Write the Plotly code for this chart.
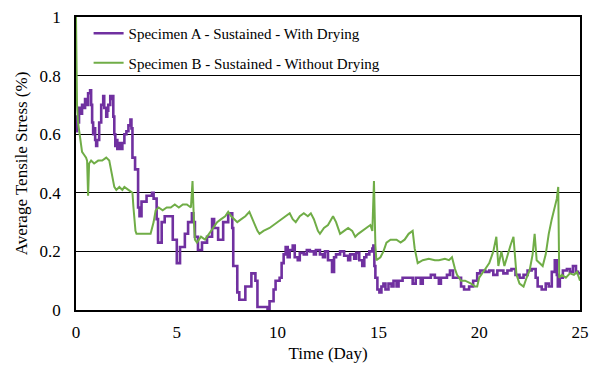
import plotly.graph_objects as go

# Specimen A - Sustained - With Drying (purple)
a_day = [0.0, 0.05, 0.1, 0.15, 0.25, 0.3, 0.4, 0.45, 0.55, 0.6, 0.7, 0.75, 0.8, 0.85, 0.9, 0.95, 1.0, 1.05,
         1.15, 1.25, 1.35, 1.4, 1.5, 1.55, 1.6, 1.7, 1.75, 1.8, 1.85, 1.9, 1.95, 2.0, 2.05, 2.15, 2.2, 2.3,
         2.4, 2.5, 2.6, 2.7, 2.75, 2.8, 2.93, 3.08, 3.15, 3.25, 3.5, 3.77, 3.85, 4.0, 4.07, 4.25, 4.4, 4.66,
         4.8, 5.0, 5.16, 5.4, 5.56, 5.75, 5.82, 5.9, 6.05, 6.25, 6.5, 6.75, 6.85, 7.05, 7.3, 7.55, 7.75,
         7.8, 8.0, 8.1, 8.4, 8.7, 8.9, 9.0, 9.5, 9.6, 9.8, 9.9, 10.1, 10.2, 10.3, 10.4, 10.5, 10.6, 10.75,
         10.85, 11.0, 11.1, 11.3, 11.45, 11.6, 11.8, 11.9, 12.1, 12.25, 12.35, 12.5, 12.7, 12.8, 12.9, 13.1,
         13.3, 13.5, 13.6, 13.8, 13.9, 14.05, 14.2, 14.3, 14.4, 14.55, 14.7, 14.75, 14.8, 14.85, 14.95,
         15.05, 15.15, 15.25, 15.35, 15.5, 15.65, 15.75, 15.9, 16.0, 16.2, 16.6, 16.7, 16.85, 17.1, 17.2,
         17.5, 17.6, 17.8, 18.0, 18.1, 18.4, 18.55, 18.7, 18.9, 19.1, 19.25, 19.5, 19.7, 19.9, 20.05, 20.3,
         20.5, 20.7, 20.9, 21.2, 21.4, 21.6, 21.8, 22.0, 22.2, 22.4, 22.6, 22.8, 22.9, 23.1, 23.3, 23.45,
         23.6, 23.75, 23.85, 23.9, 24.0, 24.15, 24.35, 24.5, 24.65, 24.8, 24.9, 25.0]
a_val = [0.61, 0.66, 0.64, 0.69, 0.67, 0.70, 0.69, 0.72, 0.70, 0.74, 0.75, 0.70, 0.64, 0.60, 0.62, 0.58, 0.56, 0.58,
         0.64, 0.70, 0.73, 0.69, 0.66, 0.68, 0.70, 0.73, 0.72, 0.73, 0.66, 0.60, 0.56, 0.58, 0.55, 0.57, 0.55, 0.57,
         0.60, 0.61, 0.63, 0.65, 0.62, 0.52, 0.48, 0.35, 0.32, 0.37, 0.39, 0.40, 0.38, 0.31, 0.23, 0.30, 0.32, 0.32,
         0.24, 0.16, 0.215, 0.26, 0.30, 0.33, 0.30, 0.25, 0.205, 0.23, 0.25, 0.31, 0.28, 0.24, 0.30, 0.33, 0.28,
         0.15, 0.06, 0.035, 0.08, 0.125, 0.10, 0.01, 0.0, 0.03, 0.07, 0.10, 0.11, 0.16, 0.19, 0.215, 0.18, 0.205, 0.22,
         0.18, 0.17, 0.195, 0.19, 0.205, 0.20, 0.19, 0.205, 0.19, 0.18, 0.20, 0.17, 0.13, 0.18, 0.19, 0.20,
         0.185, 0.17, 0.19, 0.175, 0.195, 0.17, 0.15, 0.18, 0.19, 0.20, 0.21, 0.22, 0.15, 0.11, 0.07,
         0.06, 0.08, 0.09, 0.07, 0.09, 0.08, 0.10, 0.08, 0.10, 0.11, 0.11, 0.09, 0.11, 0.09, 0.11,
         0.11, 0.12, 0.11, 0.09, 0.11, 0.12, 0.135, 0.11, 0.11, 0.08, 0.07, 0.08, 0.10, 0.125, 0.135, 0.13,
         0.135, 0.12, 0.135, 0.125, 0.135, 0.14, 0.12, 0.11, 0.12, 0.135, 0.14, 0.11, 0.08, 0.07, 0.09, 0.08,
         0.13, 0.17, 0.12, 0.08, 0.11, 0.135, 0.14, 0.13, 0.15, 0.13, 0.125, 0.12]

# Specimen B - Sustained - Without Drying (green)
b_day = [0.0, 0.02, 0.05, 0.1, 0.2, 0.3, 0.4, 0.5, 0.55, 0.6, 0.65, 0.75, 0.9, 1.1, 1.3, 1.5, 1.65, 1.8, 1.9,
         2.0, 2.15, 2.3, 2.4, 2.6, 2.8, 2.85, 2.95, 3.0, 3.4, 3.7, 3.85, 3.95, 4.1, 4.3, 4.5, 4.7, 4.9, 5.1,
         5.3, 5.5, 5.7, 5.78, 5.85, 5.9, 6.0, 6.2, 6.4, 6.6, 6.8, 7.0, 7.2, 7.4, 7.55, 7.7, 7.85, 8.0, 8.2,
         8.4, 8.6, 8.8, 9.0, 9.1, 9.3, 9.6, 9.8, 10.0, 10.2, 10.4, 10.6, 10.75, 10.9, 11.1, 11.3, 11.5,
         11.65, 11.8, 12.0, 12.1, 12.3, 12.5, 12.75, 12.9, 13.1, 13.3, 13.5, 13.7, 13.85, 14.0, 14.2,
         14.4, 14.6, 14.7, 14.78, 14.85, 14.9, 15.1, 15.25, 15.4, 15.6, 15.9, 16.1, 16.3, 16.5, 16.7,
         16.8, 16.95, 17.2, 17.5, 17.8, 18.0, 18.3, 18.5, 18.65, 18.8, 18.9, 19.1, 19.3, 19.6, 19.8,
         19.9, 20.0, 20.3, 20.5, 20.7, 20.85, 20.95, 21.1, 21.25, 21.4, 21.55, 21.7, 21.85, 22.0, 22.2,
         22.35, 22.5, 22.65, 22.75, 22.85, 23.0, 23.15, 23.3, 23.45, 23.6, 23.75, 23.85, 23.92, 23.97,
         24.1, 24.3, 24.5, 24.7, 24.85, 25.0]
b_val = [1.0, 0.80, 0.70, 0.64, 0.58, 0.54, 0.53, 0.52, 0.51, 0.39, 0.50, 0.51, 0.50, 0.51, 0.51, 0.52, 0.51, 0.46, 0.42,
         0.41, 0.42, 0.41, 0.42, 0.41, 0.40, 0.35, 0.27, 0.26, 0.26, 0.26, 0.30, 0.34, 0.35, 0.34, 0.35, 0.35, 0.36, 0.35,
         0.36, 0.36, 0.35, 0.44, 0.30, 0.24, 0.23, 0.25, 0.24, 0.26, 0.28, 0.30, 0.31, 0.32, 0.335, 0.32, 0.31, 0.30, 0.31,
         0.32, 0.335, 0.30, 0.27, 0.26, 0.27, 0.28, 0.29, 0.30, 0.31, 0.32, 0.33, 0.31, 0.30, 0.32, 0.33, 0.32,
         0.33, 0.31, 0.27, 0.26, 0.28, 0.29, 0.32, 0.30, 0.26, 0.27, 0.28, 0.27, 0.25, 0.26, 0.27,
         0.28, 0.29, 0.27, 0.44, 0.22, 0.17, 0.18, 0.20, 0.23, 0.24, 0.24, 0.23, 0.24, 0.26, 0.27,
         0.21, 0.16, 0.17, 0.175, 0.17, 0.17, 0.175, 0.17, 0.18, 0.14, 0.12, 0.10, 0.10, 0.09, 0.08,
         0.08, 0.11, 0.14, 0.16, 0.20, 0.25, 0.15, 0.20, 0.15, 0.19, 0.22, 0.25, 0.12, 0.09, 0.08,
         0.11, 0.135, 0.19, 0.26, 0.17, 0.16, 0.15, 0.19, 0.26, 0.31, 0.35, 0.38, 0.42, 0.11,
         0.12, 0.11, 0.125, 0.12, 0.13, 0.10]

y_ticks = [0, 0.2, 0.4, 0.6, 0.8, 1.0]
y_tick_text = ["0", "0.2", "0.4", "0.6", "0.8", "1"]
x_ticks = [0, 5, 10, 15, 20, 25]

FONT = "Liberation Serif, DejaVu Serif, serif"

fig = go.Figure()
fig.add_trace(go.Scatter(x=a_day, y=a_val, mode="lines", name="Specimen A - Sustained - With Drying",
                         line=dict(color="#7030A0", width=2.6, shape="hv"), legendgroup="a"))
fig.add_trace(go.Scatter(x=b_day, y=b_val, mode="lines", name="Specimen B - Sustained - Without Drying",
                         line=dict(color="#70AD47", width=2), legendgroup="b"))

fig.update_layout(
    width=598, height=365,
    margin=dict(l=76, r=18, t=17, b=55, autoexpand=False),
    paper_bgcolor="white", plot_bgcolor="white",
    font=dict(family=FONT, color="#000000", size=15),
    showlegend=True,
    legend=dict(x=0.025, y=1.0, xanchor="left", yanchor="top", bgcolor="rgba(255,255,255,0)",
                font=dict(family=FONT, size=15), tracegroupgap=7, itemwidth=30),
    xaxis=dict(range=[0, 25], tickvals=x_ticks, showgrid=False, zeroline=False, automargin=False,
               showline=True, linecolor="#000000", linewidth=1.5, mirror=True, ticks="",
               tickfont=dict(family=FONT, size=17), ticklabelstandoff=6,
               title=dict(text="Time (Day)", font=dict(family=FONT, size=17), standoff=6)),
    yaxis=dict(range=[0, 1], tickvals=y_ticks, ticktext=y_tick_text, showgrid=True, gridcolor="#000000",
               gridwidth=1.2, zeroline=False, showline=True, linecolor="#000000", linewidth=1.5, mirror=True,
               ticks="", tickfont=dict(family=FONT, size=17), ticklabelstandoff=10, automargin=False,
               title=dict(text="Average Tensile Stress (%)", font=dict(family=FONT, size=17), standoff=8)),
)

fig.write_html("out.html")
